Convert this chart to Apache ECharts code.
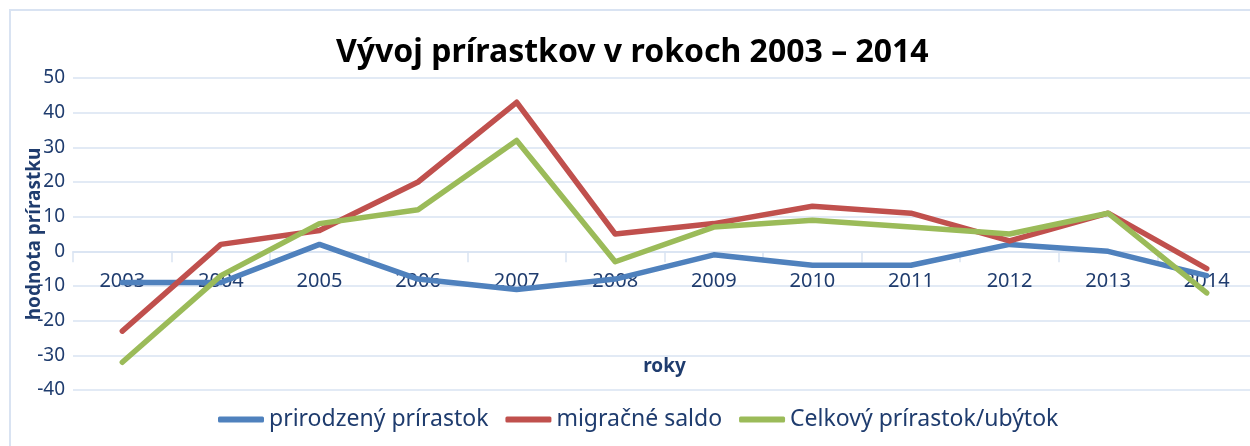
<!DOCTYPE html>
<html>
<head>
<meta charset="utf-8">
<script src="https://cdn.jsdelivr.net/npm/echarts@6/dist/echarts.min.js"></script>
<style>
  html, body { margin: 0; padding: 0; background: #fff; }
  #chart { width: 1250px; height: 446px; }
</style>
</head>
<body>
<div id="chart"></div>
<script>
// roky
const years = ['2003', '2004', '2005', '2006', '2007', '2008', '2009', '2010', '2011', '2012', '2013', '2014'];
// hodnoty radov
const prirodzeny = [-9, -9, 2, -8, -11, -8, -1, -4, -4, 2, 0, -7];
const migracne = [-23, 2, 6, 20, 43, 5, 8, 13, 11, 3, 11, -5];
const celkovy = [-32, -7, 8, 12, 32, -3, 7, 9, 7, 5, 11, -12];
const seriesNames = ['prirodzený prírastok', 'migračné saldo', 'Celkový prírastok/ubýtok'];
const colors = ['#4f81bd', '#c0504d', '#9bbb59'];

const textColor = '#1f3c6e';
const gridColor = '#d9e3f2';
const font = 'Noto Sans';

// os x lezi na nule: 0 je 139 px nad spodnym okrajom grafu (rozsah -40..50 na 312 px)
const gridTop = 78;
const gridHeight = 312;
const zeroOffset = -gridHeight * 40 / 90;

const chart = echarts.init(document.getElementById('chart'));

function lineSeries(name, data, color) {
  return {
    name: name,
    type: 'line',
    data: data,
    showSymbol: false,
    symbol: 'none',
    color: color,
    lineStyle: { width: 5.5, color: color, cap: 'round', join: 'round' }
  };
}

chart.setOption({
  animation: false,
  textStyle: { fontFamily: font },
  title: {
    text: 'Vývoj prírastkov v rokoch 2003 – 2014',
    left: 331,
    top: 32,
    textStyle: { fontFamily: font, fontWeight: 'bold', fontSize: 32, color: '#000' }
  },
  graphic: [{
    type: 'rect',
    shape: { x: 10, y: 10, width: 1270, height: 460 },
    style: { fill: 'none', stroke: gridColor, lineWidth: 2 },
    silent: true
  }],
  legend: {
    data: seriesNames,
    left: 213,
    top: 403,
    itemWidth: 46,
    itemHeight: 6,
    itemGap: 17,
    icon: 'roundRect',
    textStyle: { fontFamily: font, fontSize: 23, color: textColor }
  },
  grid: {
    left: 73,
    top: gridTop,
    width: 1183,
    height: gridHeight,
    outerBoundsMode: 'none'
  },
  xAxis: {
    type: 'category',
    data: years,
    boundaryGap: true,
    position: 'bottom',
    offset: zeroOffset,
    name: 'roky',
    nameLocation: 'middle',
    nameGap: 106,
    nameMoveOverlap: false,
    nameTextStyle: { fontFamily: font, fontWeight: 'bold', fontSize: 19, color: textColor },
    axisLine: { onZero: false, lineStyle: { color: gridColor, width: 1.5 } },
    axisTick: { show: true, alignWithLabel: false, length: 11, lineStyle: { color: gridColor, width: 1.5 } },
    axisLabel: { fontFamily: font, fontSize: 20, color: textColor, margin: 20, interval: 0 },
    splitLine: { show: false }
  },
  yAxis: {
    type: 'value',
    min: -40,
    max: 50,
    interval: 10,
    name: 'hodnota prírastku',
    nameLocation: 'middle',
    nameRotate: 90,
    nameGap: 29,
    nameMoveOverlap: false,
    nameTextStyle: { fontFamily: font, fontWeight: 'bold', fontSize: 19, color: textColor },
    axisLine: { show: false },
    axisTick: { show: false },
    axisLabel: { fontFamily: font, fontSize: 19, color: textColor, margin: 8 },
    splitLine: { lineStyle: { color: gridColor, width: 1.5 } }
  },
  series: [
    lineSeries(seriesNames[0], prirodzeny, colors[0]),
    lineSeries(seriesNames[1], migracne, colors[1]),
    lineSeries(seriesNames[2], celkovy, colors[2])
  ]
});
</script>
</body>
</html>
